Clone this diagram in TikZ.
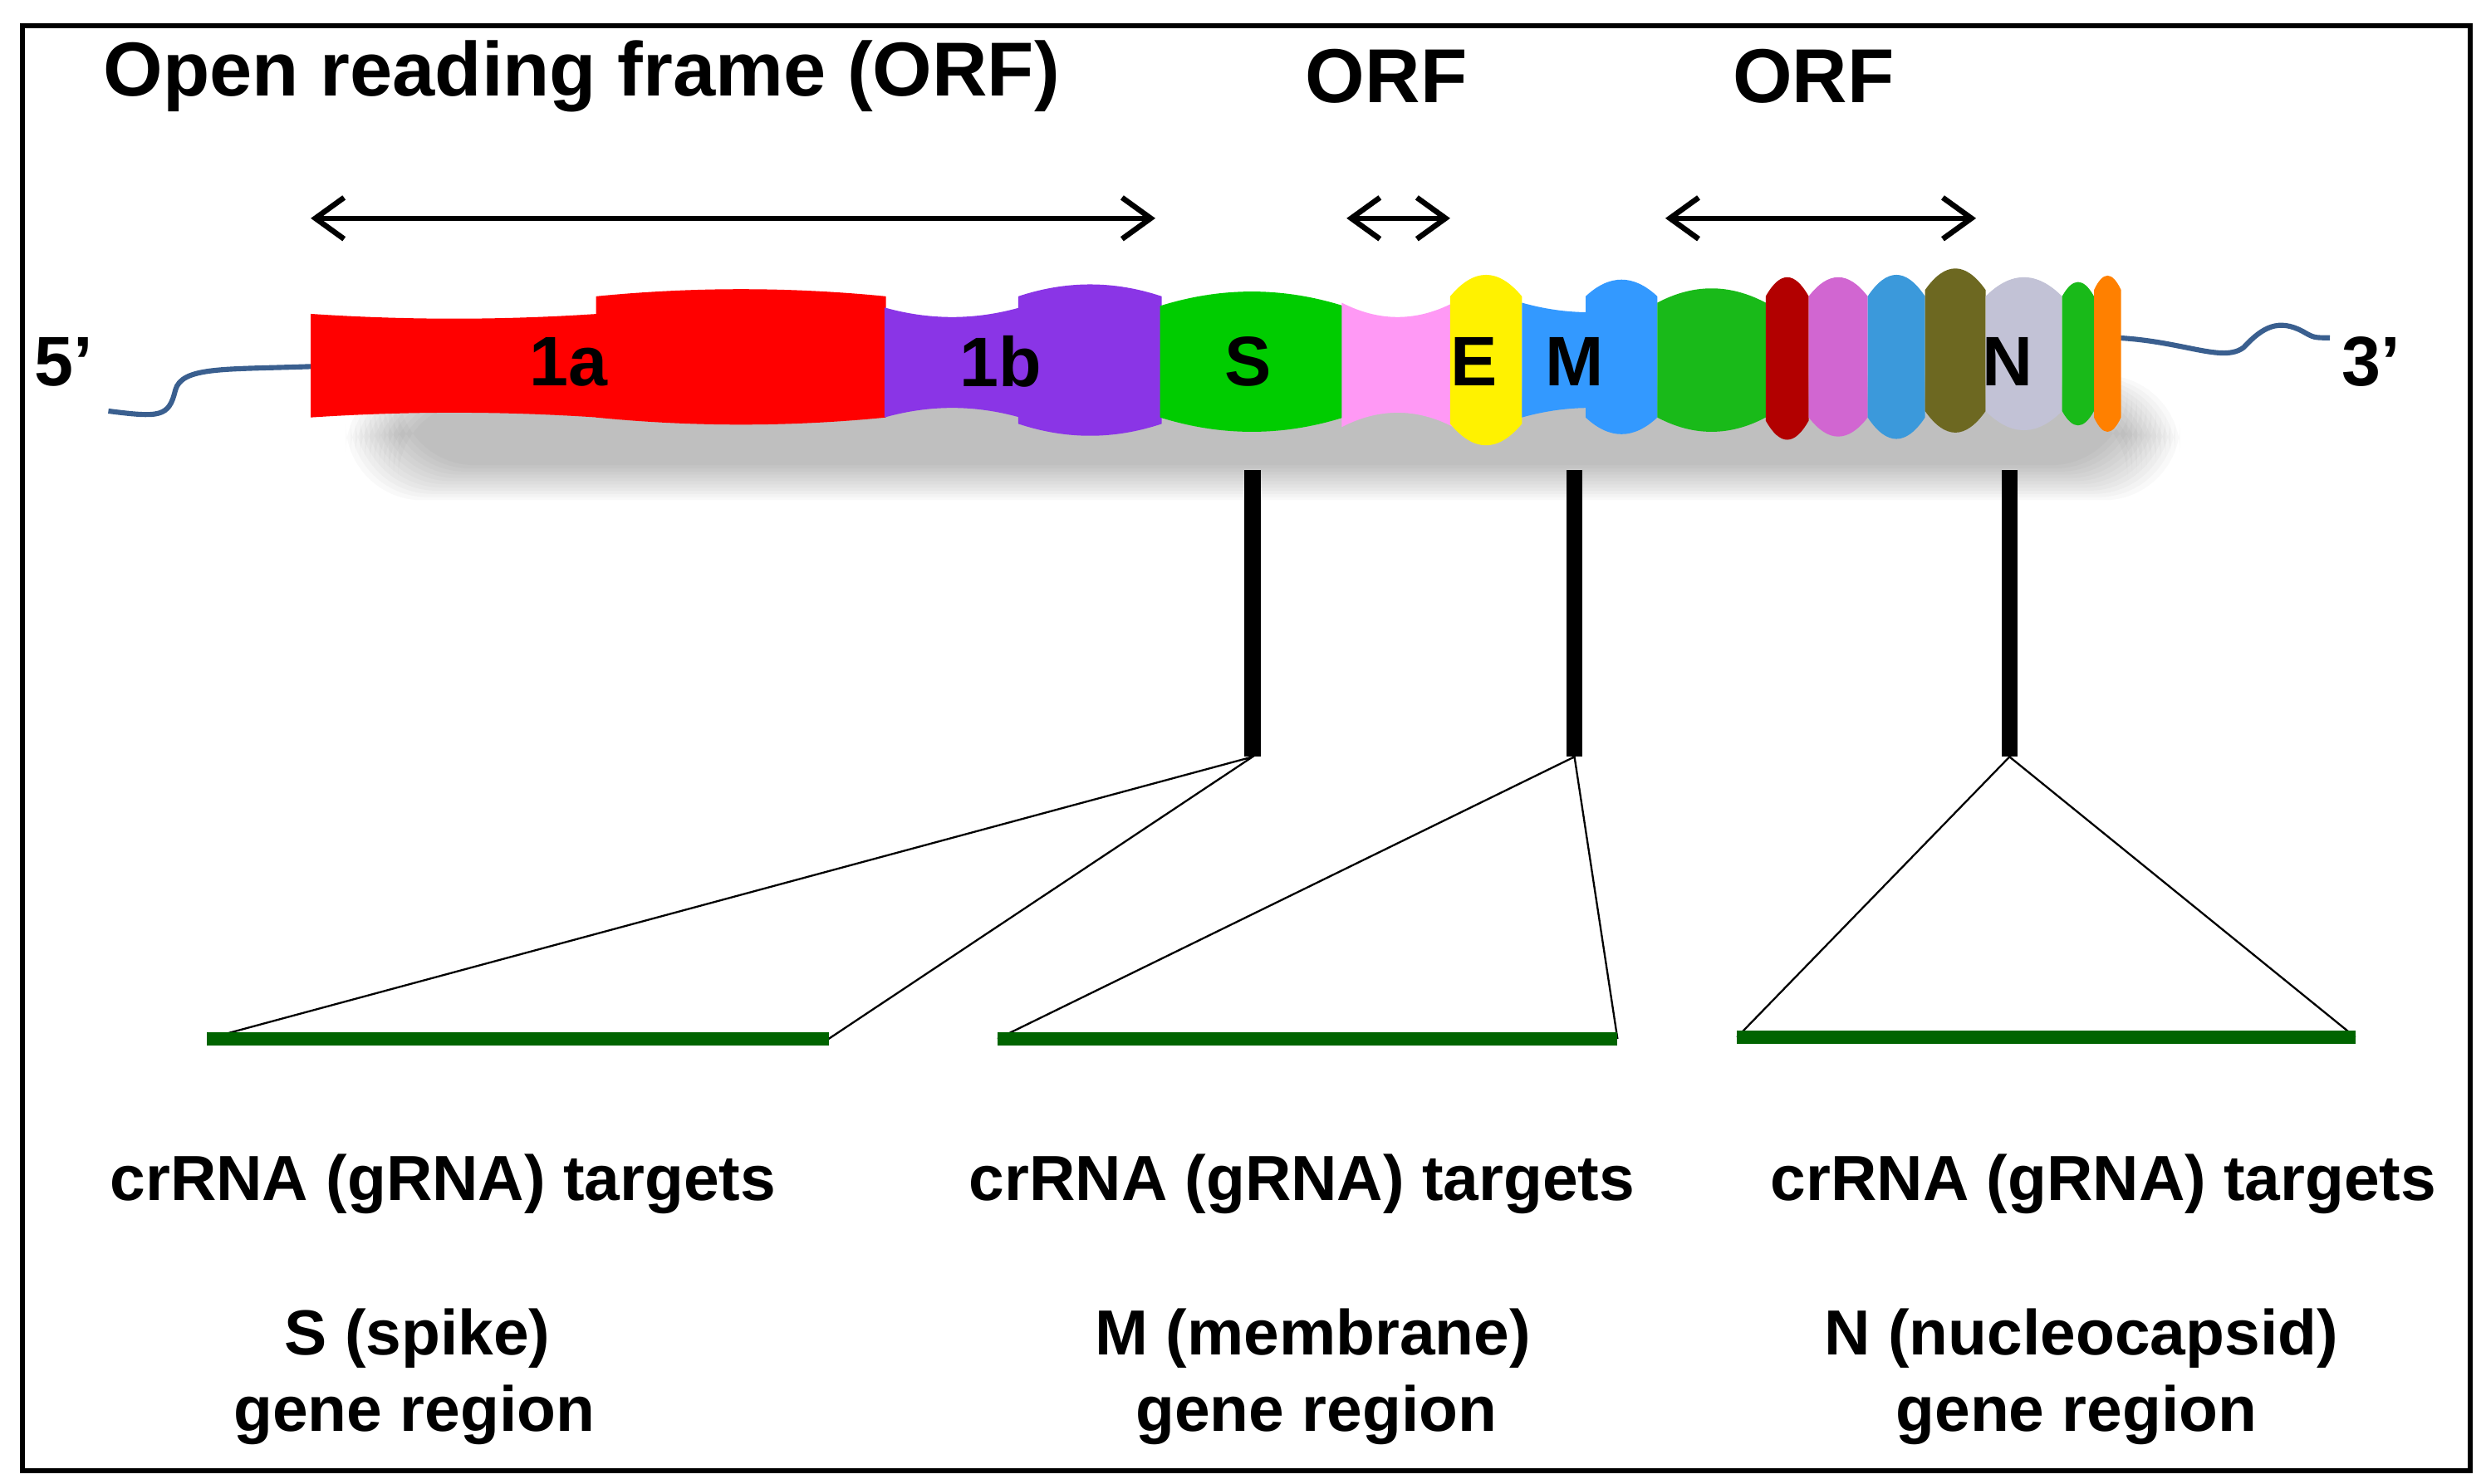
\documentclass[tikz,border=0pt]{standalone}
\usepackage{fontspec}
\setmainfont{Liberation Sans}
\usetikzlibrary{arrows.meta}
\definecolor{tail}{HTML}{3A5F8F}
\definecolor{dgreen}{HTML}{006400}
\definecolor{purp}{HTML}{8A35E6}
\definecolor{pinkk}{HTML}{FF99F5}
\newcommand{\gseg}[6]{% x0 x1 color top bottom bulge
  \pgfmathsetmacro{\wa}{(#2-#1)/3}
  \fill[#3] (#1,#4) .. controls (#1+\wa,#4-#6) and (#2-\wa,#4-#6) .. (#2,#4)
    -- (#2,#5) .. controls (#2-\wa,#5+#6) and (#1+\wa,#5+#6) .. (#1,#5) -- cycle;}
\begin{document}
\begin{tikzpicture}[x=0.5pt,y=-0.5pt,
  lab/.style={font=\fontsize{20}{22}\selectfont\bfseries, inner sep=0pt},
  ttl/.style={font=\fontsize{24}{26}\selectfont\bfseries, inner sep=0pt},
  seglab/.style={font=\fontsize{22}{24}\selectfont\bfseries, inner sep=0pt},
  orf/.style={line width=1.7pt, {Straight Barb[length=9pt,width=13pt,line width=1.7pt]}-{Straight Barb[length=9pt,width=13pt,line width=1.7pt]}},
  stem/.style={line width=5pt},
  thin/.style={line width=0.6pt},
  gbar/.style={dgreen, line width=4pt}]
\useasboundingbox (0,0) rectangle (1560,931);
\draw[line width=1.6pt] (14,16) rectangle (1550,923);
% titles
\node[ttl] (t1) at (365,48) {Open reading frame (ORF)};
\node[ttl] (t2) at (870,48) {ORF};
\node[ttl] (t3) at (1138,48) {ORF};
\coordinate (a1l) at (195,137); \coordinate (a1r) at (725,137);
\coordinate (a2l) at (845,137); \coordinate (a2r) at (910,137);
\coordinate (a3l) at (1045,137); \coordinate (a3r) at (1240,137);
\draw[orf] (a1l) -- (a1r);
\draw[orf] (a2l) -- (a2r);
\draw[orf] (a3l) -- (a3r);
% shadow
\foreach \i in {0,...,11}{
  \fill[black,opacity=0.022,rounded corners=24pt] (250-3*\i,252-1.5*\i) rectangle (1335+3*\i,292+2*\i);
}
% tails
\draw[tail,line width=1.6pt] (68,258) .. controls (100,262) and (106,262) .. (110,245) .. controls (114,230) and (140,232) .. (196,230);
\draw[tail,line width=1.6pt] (1328,212) .. controls (1370,214) and (1395,228) .. (1408,218) .. controls (1420,205) and (1430,200) .. (1445,208) .. controls (1452,212) .. (1462,212);
% genome segments
\gseg{195}{375}{red}{197}{262}{-4}
\gseg{374}{556}{red}{186}{262}{6}
\gseg{555}{640}{purp}{193}{262}{-8}
\gseg{639}{729}{purp}{186}{266}{10}
\gseg{728}{843}{green!80!black}{192}{262}{12}
\gseg{842}{912}{pinkk}{190}{268}{-12}
\gseg{910}{955}{yellow}{186}{266}{18}
\gseg{955}{1040}{blue!50!cyan!80}{190}{262}{-8}
\gseg{995}{1040}{blue!50!cyan!80}{186}{262}{14}
\gseg{1040}{1108}{green!70!black!90}{190}{262}{12}
\gseg{1108}{1135}{red!70!black}{186}{264}{16}
\gseg{1135}{1172}{violet!60!magenta!60}{186}{262}{16}
\gseg{1172}{1208}{cyan!70!blue!80}{186}{262}{18}
\gseg{1208}{1246}{olive!70!black}{182}{258}{18}
\gseg{1246}{1294}{blue!20!gray!40}{186}{258}{16}
\gseg{1294}{1314}{green!70!black!90}{186}{258}{12}
\gseg{1314}{1331}{orange}{182}{262}{12}
\node[seglab] (s1a) at (357,227) {1a};
\node[seglab] (s1b) at (628,227) {1b};
\node[seglab] (sS) at (783,227) {S};
\node[seglab] (sE) at (925,227) {E};
\node[seglab] (sM) at (988,227) {M};
\node[seglab] (sN) at (1260,227) {N};
\node[seglab] (p5) at (40,227) {5’};
\node[seglab] (p3) at (1488,227) {3’};
% stems
\coordinate (st1) at (786,295); \coordinate (sb1) at (786,475);
\coordinate (st2) at (988,295); \coordinate (sb2) at (988,475);
\coordinate (st3) at (1261,295); \coordinate (sb3) at (1261,475);
\draw[stem] (st1) -- (sb1);
\draw[stem] (st2) -- (sb2);
\draw[stem] (st3) -- (sb3);
% green bars
\coordinate (g1l) at (130,652); \coordinate (g1r) at (520,652);
\coordinate (g2l) at (626,652); \coordinate (g2r) at (1015,652);
\coordinate (g3l) at (1090,651); \coordinate (g3r) at (1478,651);
\draw[thin] (g1l) -- (sb1) -- (g1r);
\draw[thin] (g2l) -- (sb2) -- (g2r);
\draw[thin] (g3l) -- (sb3) -- (g3r);
\draw[gbar] (g1l) -- (g1r);
\draw[gbar] (g2l) -- (g2r);
\draw[gbar] (g3l) -- (g3r);
% labels
\node[lab] (c1) at (278,743) {crRNA (gRNA) targets};
\node[lab] (c2) at (817,743) {crRNA (gRNA) targets};
\node[lab] (c3) at (1320,743) {crRNA (gRNA) targets};
\node[lab] (r1) at (262,840) {S (spike)};
\node[lab] (r1b) at (260,888) {gene region};
\node[lab] (r2) at (824,840) {M (membrane)};
\node[lab] (r2b) at (826,888) {gene region};
\node[lab] (r3) at (1306,840) {N (nucleocapsid)};
\node[lab] (r3b) at (1303,888) {gene region};
\end{tikzpicture}
\end{document}
